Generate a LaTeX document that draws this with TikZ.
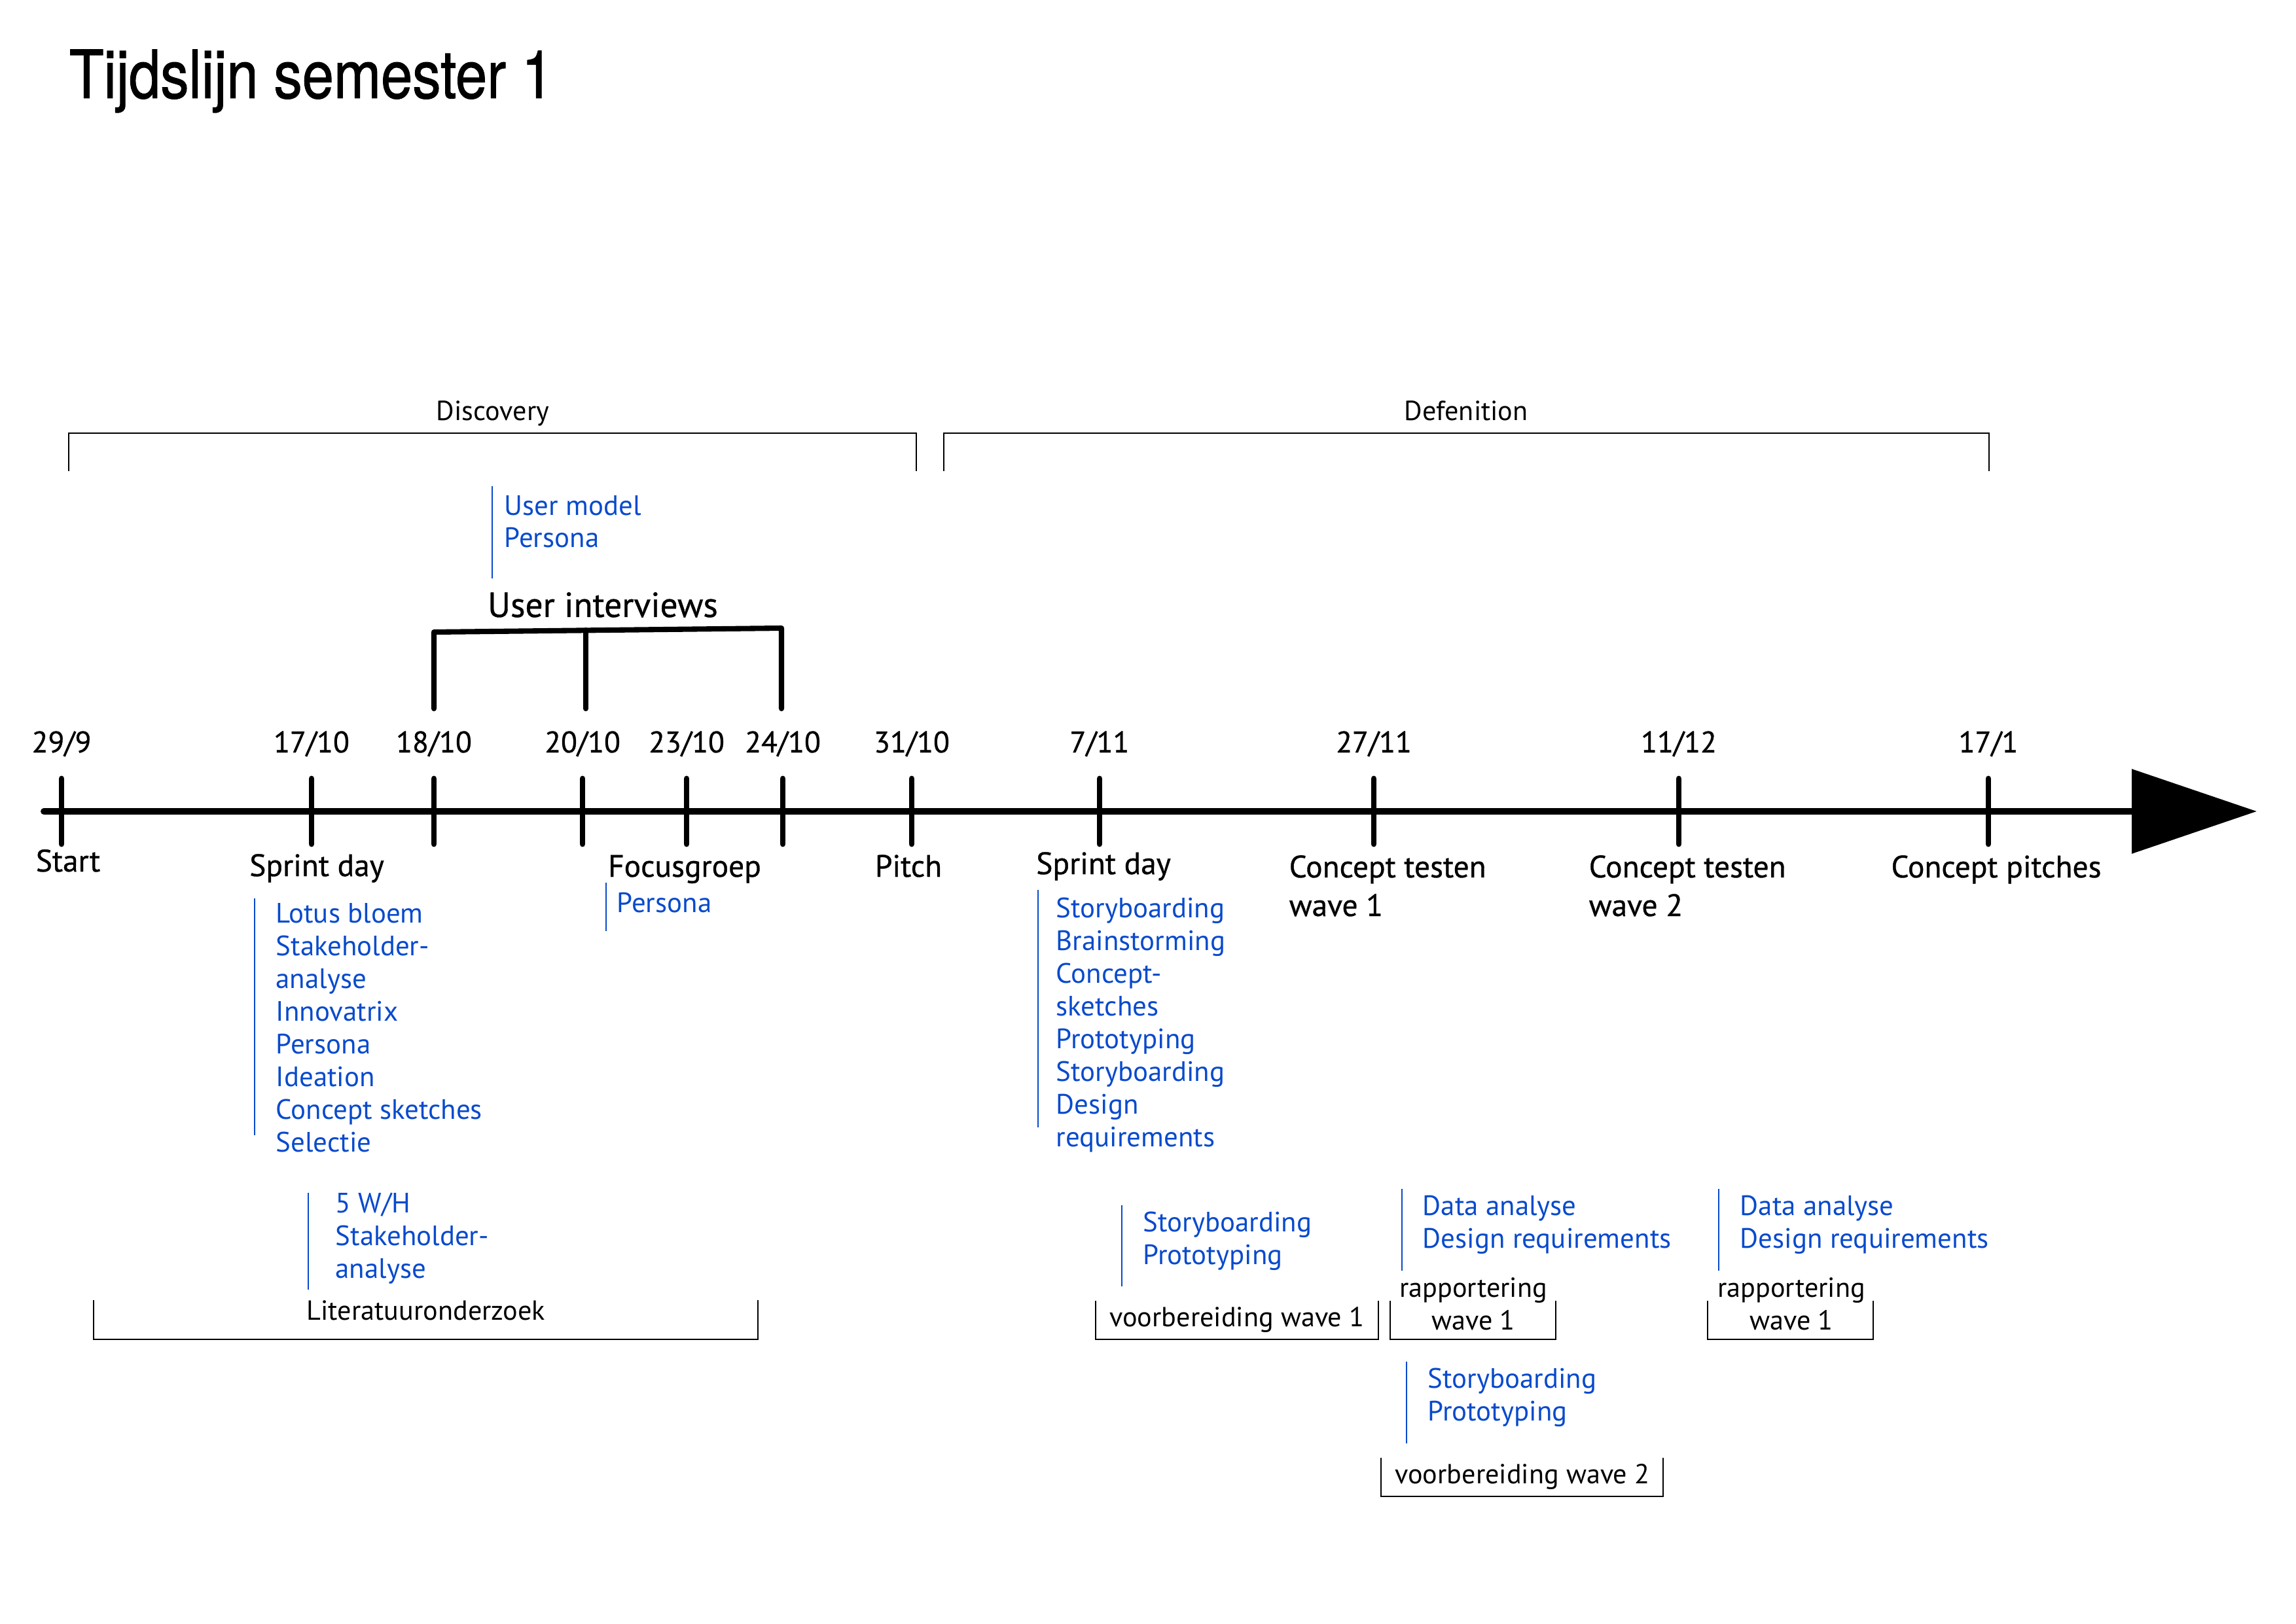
\documentclass[tikz,border=0pt]{standalone}
\usepackage{fontspec}
\setmainfont{PT Sans}
\newfontfamily\titleFont{TeX Gyre Heros}[FakeStretch=0.85, FakeBold=1]
\newfontfamily\labelFont{PT Sans}[FakeBold=0.7]
\usepackage{tikz}
\usetikzlibrary{arrows.meta, positioning}
\definecolor{mainBlack}{gray}{0}
\definecolor{noteBlue}{RGB}{8,74,204}

\begin{document}
\begin{tikzpicture}[>={Triangle[length=19.1mm, width=12.7mm]},
    tickmark/.style={line width=2.5pt, line cap=round, mainBlack},
    datelabel/.style={font=\labelFont\fontsize{13}{16}\selectfont, anchor=base, inner sep=0pt},
    eventlabel/.style={font=\labelFont\fontsize{13.5}{16.8}\selectfont, anchor=base, inner sep=0pt, align=left},
    notetext/.style={font=\fontsize{12.2}{14.2}\selectfont, text=noteBlue, anchor=base west, inner sep=0pt, align=left},
    noteline/.style={noteBlue, line width=0.6pt},
    phaselabel/.style={font=\fontsize{12}{14.2}\selectfont, anchor=base, inner sep=0pt, align=center},
    phasebracket/.style={line width=0.8pt, mainBlack}]
    \useasboundingbox (0,0) rectangle (35.08,24.81);

    % Title
    \node[font=\titleFont\fontsize{29}{34}\selectfont, anchor=base west, inner sep=0pt] (title) at (1.05,23.31) {Tijdslijn semester 1};

    % Timeline
    \draw[->, line width=2.8pt, line cap=round, mainBlack] (0.67,12.41) -- (34.48,12.41);

    % Ticks and dates
    \foreach \x/\lbl [count=\i] in {0.94/{29/9}, 4.76/{17/10}, 6.63/{18/10}, 8.90/{20/10}, 10.49/{23/10}, 11.96/{24/10}, 13.93/{31/10}, 16.80/{7/11}, 20.99/{27/11}, 25.65/{11/12}, 30.38/{17/1}}{
        \coordinate (t\i) at (\x,12.41);
        \draw[tickmark] (\x,11.91) -- (\x,12.91);
        \node[datelabel] (d\i) at (\x,13.31) {\lbl};
    }

    % Events (multi-line nodes sit on their last line)
    \node[eventlabel] (start) at (1.04,11.49) {Start};
    \node[eventlabel] (sprint1) at (4.84,11.42) {Sprint day};
    \node[eventlabel] (focus) at (10.46,11.41) {Focusgroep};
    \node[eventlabel] (pitch) at (13.88,11.41) {Pitch};
    \node[eventlabel] (sprint2) at (16.86,11.45) {Sprint day};
    \node[eventlabel, anchor=base west] (test1) at (19.69,10.81) {Concept testen\\wave 1};
    \node[eventlabel, anchor=base west] (test2) at (24.27,10.81) {Concept testen\\wave 2};
    \node[eventlabel] (pitches) at (30.50,11.40) {Concept pitches};

    % Phases
    \node[phaselabel] (discovery) at (7.53,18.38) {Discovery};
    \draw[phasebracket] (1.05,17.61) |- (14.00,18.19) -- (14.00,17.61);
    \node[phaselabel] (definition) at (22.40,18.38) {Defenition};
    \draw[phasebracket] (14.42,17.61) |- (30.39,18.19) -- (30.39,17.61);

    % User interviews
    \node[eventlabel, font=\labelFont\fontsize{15.2}{18}\selectfont] (interviews) at (9.21,15.38) {User interviews};
    \draw[line width=2.3pt, line cap=round, line join=round] (6.63,13.98) -- (6.63,15.15) -- (11.94,15.21) -- (11.94,13.98);
    \draw[line width=2.3pt, line cap=round] (8.95,15.18) -- (8.95,13.98);

    % Notes
    \draw[noteline] (7.52,17.38) -- (7.52,15.97);
    \node[notetext] (modelnotes) at (7.70,16.44) {User model\\Persona};
    \draw[noteline] (3.89,11.08) -- (3.89,7.46);
    \node[notetext] (sprint1notes) at (4.21,7.21) {Lotus bloem\\Stakeholder-\\analyse\\Innovatrix\\Persona\\Ideation\\Concept sketches\\Selectie};
    \draw[noteline] (4.71,6.58) -- (4.71,5.10);
    \node[notetext] (litnotes) at (5.12,5.28) {5 W/H\\Stakeholder-\\analyse};
    \draw[noteline] (9.26,11.32) -- (9.26,10.58);
    \node[notetext] (focusnotes) at (9.42,10.87) {Persona};
    \draw[noteline] (15.86,11.21) -- (15.86,7.58);
    \node[notetext] (sprint2notes) at (16.13,7.29) {Storyboarding\\Brainstorming\\Concept-\\sketches\\Prototyping\\Storyboarding\\Design\\requirements};
    \draw[noteline] (17.14,6.39) -- (17.14,5.15);
    \node[notetext] (prep1notes) at (17.46,5.49) {Storyboarding\\Prototyping};
    \draw[noteline] (21.42,6.64) -- (21.42,5.39);
    \node[notetext] (report1notes) at (21.73,5.74) {Data analyse\\Design requirements};
    \draw[noteline] (26.26,6.64) -- (26.26,5.39);
    \node[notetext] (report2notes) at (26.58,5.74) {Data analyse\\Design requirements};
    \draw[noteline] (21.49,4.00) -- (21.49,2.75);
    \node[notetext] (prep2notes) at (21.81,3.10) {Storyboarding\\Prototyping};

    % Work packages
    \node[phaselabel] (lit) at (6.51,4.64) {Literatuuronderzoek};
    \draw[phasebracket] (1.43,4.94) |- (11.58,4.34) -- (11.58,4.94);
    \node[phaselabel] (prep1) at (18.90,4.54) {voorbereiding wave 1};
    \draw[phasebracket] (16.74,4.93) |- (21.06,4.34) -- (21.06,4.93);
    \node[phaselabel] (report1) at (22.51,4.49) {rapportering\\wave 1};
    \draw[phasebracket] (21.24,4.93) |- (23.77,4.34) -- (23.77,4.93);
    \node[phaselabel] (report2) at (27.37,4.49) {rapportering\\wave 1};
    \draw[phasebracket] (26.09,4.93) |- (28.62,4.34) -- (28.62,4.93);
    \node[phaselabel] (prep2) at (23.26,2.14) {voorbereiding wave 2};
    \draw[phasebracket] (21.10,2.53) |- (25.41,1.94) -- (25.41,2.53);
\end{tikzpicture}
\end{document}
